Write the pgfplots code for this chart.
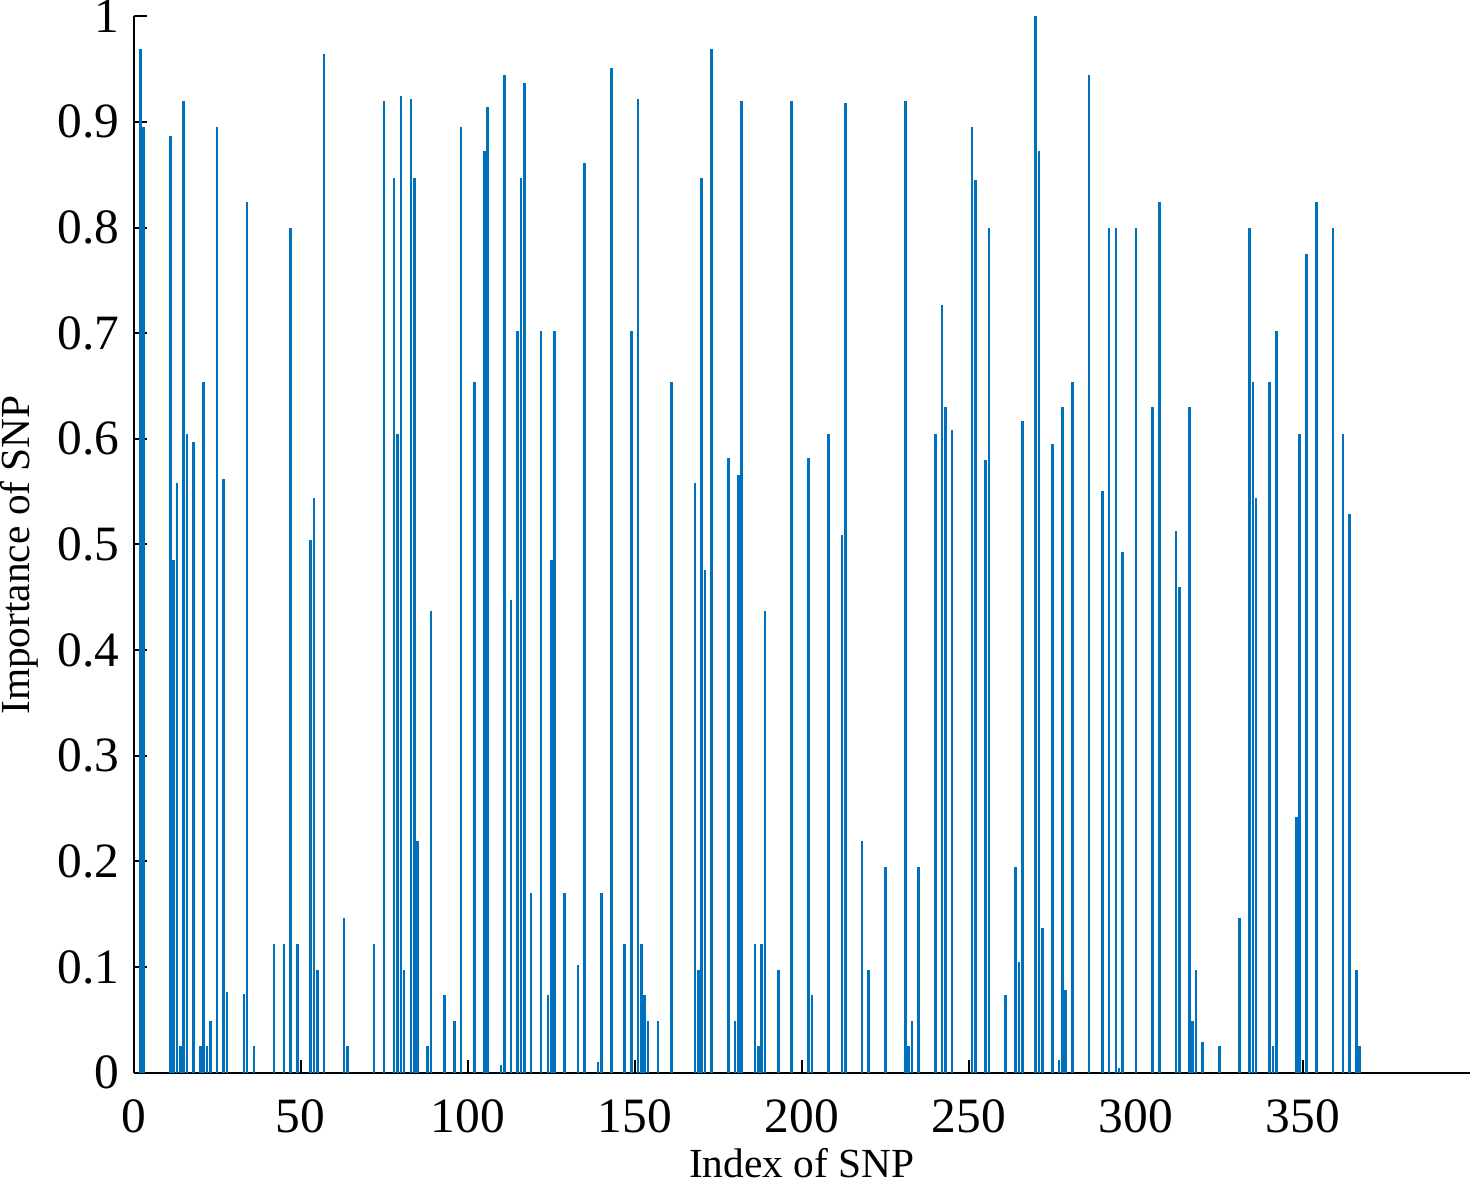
\documentclass[border=0pt]{standalone}
\usepackage{pgfplots}
\pgfplotsset{compat=1.18}
\usepackage{fontspec}
\setmainfont{Liberation Serif}
\definecolor{mblue}{RGB}{0,114,189}
\begin{document}
\begin{tikzpicture}
\begin{axis}[
  scale only axis,
  width=332.75pt, height=263pt,
  xmin=0, xmax=400, ymin=0, ymax=1,
  axis x line=bottom, axis y line=left,
  axis line style={-, line width=0.5pt, black},
  xtick={0,50,...,350},
  ytick={0,0.1,...,1.0},
  yticklabels={0,0.1,0.2,0.3,0.4,0.5,0.6,0.7,0.8,0.9,1},
  tick align=inside,
  major tick length=3.25pt,
  tick style={black, line width=0.5pt},
  /pgf/number format/assume math mode=true,
  ticklabel style={font=\fontsize{12.3}{12.5}\selectfont},
  yticklabel style={inner ysep=0pt},
  xticklabel style={yshift=-3.2pt},
  label style={font=\fontsize{10.3}{12}\selectfont},
  xlabel={Index of SNP},
  ylabel={Importance of SNP},
  xlabel style={inner sep=0pt, inner ysep=0.6pt, at={(axis description cs:0.5,0)}, anchor=base, yshift=-26pt},
  ylabel style={inner sep=0pt, at={(axis description cs:0,0.49)}, anchor=base, yshift=26pt},
  clip=false,
]
\addplot[ycomb, mblue, line width=0.65pt, no marks] table {
x y
2 0.969
3 0.895
11 0.887
12 0.485
13 0.558
14 0.025
15 0.920
16 0.605
18 0.597
20 0.025
21 0.654
22 0.025
23 0.049
25 0.895
27 0.562
28 0.076
33 0.074
34 0.824
36 0.025
42 0.122
45 0.122
47 0.800
49 0.122
53 0.504
54 0.544
55 0.097
57 0.964
63 0.146
64 0.025
72 0.122
75 0.920
78 0.847
79 0.605
80 0.925
81 0.097
83 0.922
84 0.847
85 0.219
88 0.025
89 0.437
93 0.073
96 0.049
98 0.895
102 0.654
105 0.872
106 0.914
110 0.007
111 0.944
113 0.447
115 0.702
116 0.847
117 0.937
119 0.170
122 0.702
124 0.073
125 0.485
126 0.702
129 0.170
133 0.102
135 0.861
139 0.010
140 0.170
143 0.951
147 0.122
149 0.702
151 0.922
152 0.122
153 0.073
154 0.049
157 0.049
161 0.654
168 0.558
169 0.097
170 0.847
171 0.476
173 0.969
178 0.582
180 0.049
181 0.566
182 0.920
186 0.122
187 0.025
188 0.122
189 0.437
193 0.097
197 0.920
202 0.582
203 0.073
208 0.605
212 0.509
213 0.918
218 0.219
220 0.097
225 0.195
231 0.920
232 0.025
233 0.049
235 0.195
240 0.605
242 0.727
243 0.630
245 0.608
251 0.895
252 0.845
255 0.580
256 0.800
261 0.073
264 0.195
265 0.105
266 0.617
270 1.000
271 0.872
272 0.137
275 0.595
277 0.012
278 0.630
279 0.078
281 0.654
286 0.944
290 0.551
292 0.800
294 0.800
295 0.004
296 0.493
300 0.800
305 0.630
307 0.824
312 0.513
313 0.460
316 0.630
317 0.049
318 0.097
320 0.029
325 0.025
331 0.146
334 0.800
335 0.654
336 0.544
340 0.654
341 0.025
342 0.702
348 0.242
349 0.605
351 0.775
354 0.824
359 0.800
362 0.605
364 0.529
366 0.097
367 0.025
};
\end{axis}
\end{tikzpicture}
\end{document}
